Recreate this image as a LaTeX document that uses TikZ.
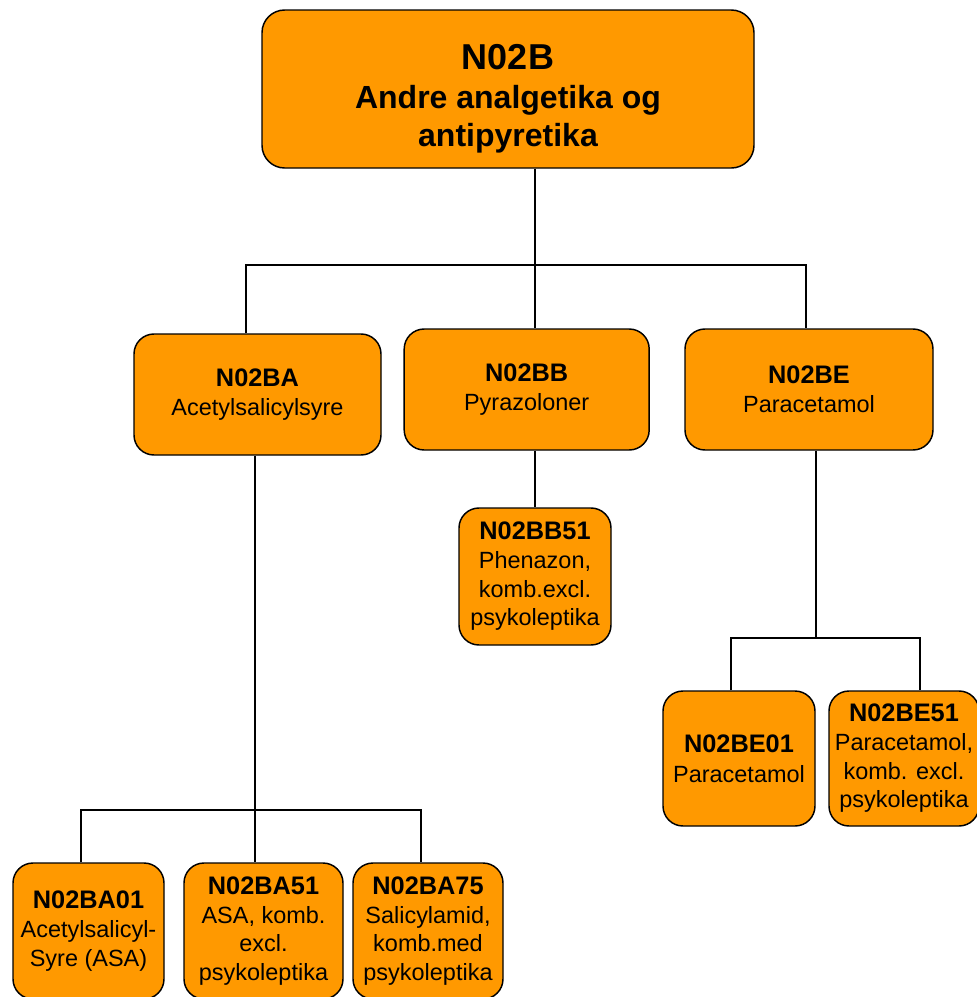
\documentclass[tikz,border=0pt]{standalone}
\usepackage{fontspec}
\setmainfont{Liberation Sans}
\definecolor{atcorange}{RGB}{255,153,0}
\newcommand{\atchd}[1]{{\fontsize{19}{21.5}\selectfont\bfseries #1}}
\tikzset{
    atcbox/.style={draw, line width=1.1pt, fill=atcorange, rounded corners=15pt, inner sep=0pt, align=center,
        font=\fontsize{17.6}{21.5}\selectfont},
    midbox/.style={atcbox, font=\fontsize{17.6}{22}\selectfont, minimum height=90.75pt},
    link/.style={line width=0.9pt}
}
\begin{document}
\begin{tikzpicture}[x=0.75pt,y=-0.75pt]
    \useasboundingbox (0,0) rectangle (977,997);
    \clip (0,0) rectangle (977,997);

    % top level
    \node[atcbox, minimum width=369pt, minimum height=118.5pt, rounded corners=17pt,
        font=\fontsize{24}{28.5}\selectfont\bfseries] (top) at (508,89)
        {\rule{0pt}{33pt}{\fontsize{27}{28.5}\selectfont N02B}\\[1pt] Andre analgetika og\\ antipyretika};

    % second level
    \node[midbox, minimum width=185.25pt] (ba) at (257.5,394.5) {\atchd{N02BA}\\ Acetylsalicylsyre};
    \node[midbox, minimum width=183.75pt] (bb) at (526.7,389.5) {\atchd{N02BB}\\ Pyrazoloner};
    \node[midbox, minimum width=186pt] (be) at (809,389.5) {\atchd{N02BE}\\ Paracetamol};

    % third level
    \node[atcbox, minimum width=114pt, minimum height=102.75pt] (bb51) at (535,576.5)
        {\atchd{N02BB51}\\ Phenazon,\\ komb.excl.\\ psykoleptika};
    \node[atcbox, minimum width=114pt, minimum height=101.25pt] (be01) at (739,758.5)
        {\atchd{N02BE01}\\[1pt] Paracetamol};
    \node[atcbox, minimum width=112.5pt, minimum height=101.25pt] (be51) at (904,758.5)
        {\atchd{N02BE51}\\ Paracetamol,\\ komb. excl.\\ psykoleptika};
    \node[atcbox, minimum width=113.25pt, minimum height=102pt] (ba01) at (88.5,931)
        {\atchd{N02BA01}\\ Acetylsalicyl-\\ Syre (ASA)};
    \node[atcbox, minimum width=119.25pt, minimum height=102pt] (ba51) at (263.5,931)
        {\atchd{N02BA51}\\ ASA, komb.\\ excl.\\ psykoleptika};
    \node[atcbox, minimum width=112.5pt, minimum height=102pt] (ba75) at (428,931)
        {\atchd{N02BA75}\\ Salicylamid,\\ komb.med\\ psykoleptika};

    % connectors
    \coordinate (j0) at (535,265);
    \coordinate (jl) at (246,265);
    \coordinate (jr) at (806,265);
    \draw[link] (top.south -| j0) -- (j0);
    \draw[link] (jl |- ba.north) -- (jl) -- (jr) -- (jr |- be.north);
    \draw[link] (j0) -- (j0 |- bb.north);
    \draw[link] (bb.south -| bb51.north) -- (bb51.north);

    \coordinate (k0) at (816,638);
    \coordinate (kl) at (731,638);
    \coordinate (kr) at (920,638);
    \draw[link] (be.south -| k0) -- (k0);
    \draw[link] (kl |- be01.north) -- (kl) -- (kr) -- (kr |- be51.north);

    \coordinate (m0) at (255,810);
    \coordinate (ml) at (81,810);
    \coordinate (mr) at (421,810);
    \draw[link] (ba.south -| m0) -- (m0 |- ba51.north);
    \draw[link] (ml |- ba01.north) -- (ml) -- (mr) -- (mr |- ba75.north);
\end{tikzpicture}
\end{document}
